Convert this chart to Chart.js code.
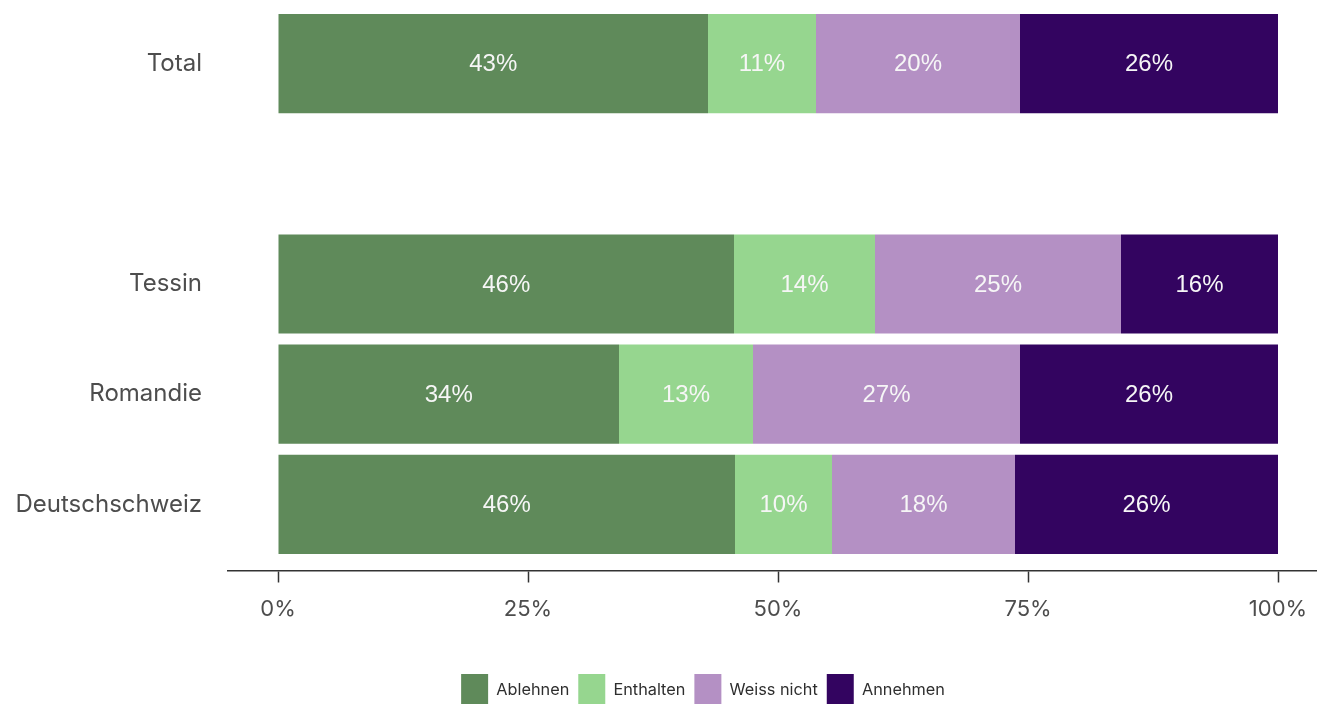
<!DOCTYPE html>
<html><head><meta charset="utf-8">
<script src="https://cdn.jsdelivr.net/npm/chart.js@4.4.1/dist/chart.umd.min.js"></script>
<style>
html,body{margin:0;padding:0;background:#fff;overflow:hidden;width:1317px;height:704px;}
#wrap{position:absolute;left:0;top:-20px;width:1406px;height:736px;}
</style></head><body>
<div id="wrap"><canvas id="c"></canvas></div>
<script>
const categories = ["Total", "", "Tessin", "Romandie", "Deutschschweiz"];
const seriesNames = ["Ablehnen", "Enthalten", "Weiss nicht", "Annehmen"];
const ablehnen   = [43.0, null, 45.6, 34.1, 45.7];
const enthalten  = [10.8, null, 14.1, 13.4, 9.7];
const weissNicht = [20.4, null, 24.6, 26.7, 18.3];
const annehmen   = [25.8, null, 15.7, 25.8, 26.3];
const xTicks = [0, 25, 50, 75, 100];
const colors = ["#5f8a5a", "#96d68f", "#b490c4", "#330460"];

const seriesValues = [ablehnen, enthalten, weissNicht, annehmen];
function toPoints(vals){
  const pts = [];
  vals.forEach((v, i) => { if (v !== null) pts.push({x: v, y: i}); });
  return pts;
}

const barLabels = {
  id: 'barLabels',
  afterDatasetsDraw(chart){
    const ctx = chart.ctx;
    ctx.save();
    ctx.font = '24px "Liberation Sans", Arial, sans-serif';
    ctx.fillStyle = '#f6f6f6';
    ctx.textAlign = 'center';
    ctx.textBaseline = 'middle';
    chart.data.datasets.forEach((ds, di) => {
      const meta = chart.getDatasetMeta(di);
      meta.data.forEach((el, i) => {
        const v = ds.data[i].x;
        const p = el.getProps(['x','base','y'], true);
        ctx.fillText(Math.round(v) + '%', (p.x + p.base) / 2, p.y + 1);
      });
    });
    ctx.restore();
  }
};

new Chart(document.getElementById('c'), {
  type: 'bar',
  data: {
    datasets: seriesNames.map((name, k) => ({
      label: name,
      data: toPoints(seriesValues[k]),
      backgroundColor: colors[k],
      borderWidth: 0,
      categoryPercentage: 0.9,
      barPercentage: 1.0
    }))
  },
  options: {
    indexAxis: 'y',
    responsive: true,
    maintainAspectRatio: false,
    animation: false,
    layout: {autoPadding: false, padding: {top: 17.5, left: 0, right: 0, bottom: 0}},
    plugins: {
      tooltip: {enabled: false},
      legend: {
        position: 'bottom',
        labels: {boxWidth: 27, boxHeight: 32, padding: 9, color: '#2e2e2e',
                 font: {family: 'Inter', size: 16.3}}
      }
    },
    scales: {
      x: {
        type: 'linear', min: -5, max: 105, stacked: true, position: 'bottom',
        afterBuildTicks: s => { s.ticks = xTicks.map(v => ({value: v})); },
        afterFit: s => { s.height = 94.5; s.paddingLeft = 0; s.paddingRight = 0; },
        grid: {display: true, drawOnChartArea: false, drawTicks: true, tickLength: 12, tickColor: '#333', tickWidth: 1.5},
        border: {display: true, color: '#333', width: 1.5},
        ticks: {padding: 14, color: '#4d4d4d', font: {family: 'Inter', size: 22},
                maxRotation: 0, autoSkip: false, callback: v => v + '%'}
      },
      y: {
        type: 'linear', reverse: true, min: -0.6, max: 4.6, stacked: true,
        offset: false,
        afterBuildTicks: s => { s.ticks = categories.map((c, i) => ({value: i})); },
        afterFit: s => { s.width = 228; s.paddingTop = 0; s.paddingBottom = 0; },
        grid: {display: false, drawTicks: false, offset: false},
        border: {display: false},
        ticks: {padding: 26, color: '#4d4d4d', font: {family: 'Inter', size: 24},
                callback: v => categories[v] ?? ''}
      },
      spacer: {
        type: 'linear', position: 'right', display: true,
        afterFit: s => { s.width = 78; s.paddingTop = 0; s.paddingBottom = 0; },
        grid: {display: false, drawTicks: false},
        border: {display: false},
        ticks: {display: false}
      }
    }
  },
  plugins: [barLabels]
});
</script>
</body></html>
